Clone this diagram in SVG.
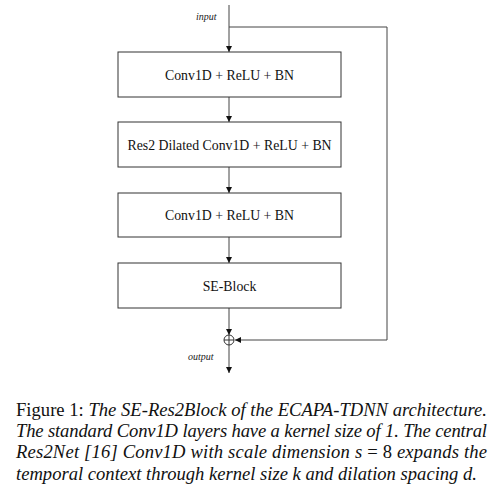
<svg xmlns="http://www.w3.org/2000/svg" width="492" height="493" viewBox="0 0 492 493">
<style>
.box{fill:#fff;stroke:#333;stroke-width:1}
.lbl{font-family:"Liberation Serif","Times New Roman",serif;font-size:13.8px;fill:#111;text-anchor:middle}
.io{font-family:"Liberation Serif","Times New Roman",serif;font-size:10px;font-style:italic;fill:#222}
.line{fill:none;stroke:#444;stroke-width:1}
.cap{font-family:"Liberation Serif","Times New Roman",serif;font-size:18.6px;fill:#111}
.it{font-style:italic}
</style>
<defs>
<marker id="ah" viewBox="0 0 6 6" refX="6" refY="3" markerWidth="6" markerHeight="6" orient="auto" markerUnits="userSpaceOnUse">
<path d="M0,0 L6,3 L0,6 Z" fill="#111"/>
</marker>
</defs>
<rect width="492" height="493" fill="#fff"/>
<g id="connectors">
<line class="line" x1="229" y1="5" x2="229" y2="52" marker-end="url(#ah)"/>
<line class="line" x1="229" y1="97" x2="229" y2="122" marker-end="url(#ah)"/>
<line class="line" x1="229" y1="167" x2="229" y2="193" marker-end="url(#ah)"/>
<line class="line" x1="229" y1="237" x2="229" y2="263" marker-end="url(#ah)"/>
<line class="line" x1="229" y1="308" x2="229" y2="335" marker-end="url(#ah)"/>
<line class="line" x1="229" y1="345" x2="229" y2="373" marker-end="url(#ah)"/>
<polyline class="line" points="229,27 387,27 387,340 235,340" marker-end="url(#ah)"/>
</g>
<g id="input-label"><text class="io" x="196" y="20">input</text></g>
<g id="node-conv1"><rect class="box" x="118" y="52" width="223" height="45"/><text class="lbl" x="229.5" y="79.5">Conv1D + ReLU + BN</text></g>
<g id="node-res2"><rect class="box" x="118" y="122" width="223" height="45"/><text class="lbl" x="229.5" y="149.5">Res2 Dilated Conv1D + ReLU + BN</text></g>
<g id="node-conv2"><rect class="box" x="118" y="193" width="223" height="44"/><text class="lbl" x="229.5" y="220">Conv1D + ReLU + BN</text></g>
<g id="node-se"><rect class="box" x="118" y="263" width="223" height="45"/><text class="lbl" x="229.5" y="290.5">SE-Block</text></g>
<g id="node-sum"><circle cx="229" cy="340" r="5" fill="#fff" stroke="#333" stroke-width="1"/><line x1="224" y1="340" x2="234" y2="340" stroke="#333"/><line x1="229" y1="335" x2="229" y2="345" stroke="#333"/></g>
<g id="output-label"><text class="io" x="188" y="360">output</text></g>
<g id="caption">
<text class="cap" x="16" y="416" textLength="471" lengthAdjust="spacing">Figure 1: <tspan class="it">The SE-Res2Block of the ECAPA-TDNN architecture.</tspan></text>
<text class="cap it" x="16" y="437" textLength="471" lengthAdjust="spacing">The standard Conv1D layers have a kernel size of 1. The central</text>
<text class="cap" x="16" y="458" textLength="471" lengthAdjust="spacing"><tspan class="it">Res2Net [16] Conv1D with scale dimension s </tspan>= 8<tspan class="it"> expands the</tspan></text>
<text class="cap it" x="16" y="480">temporal context through kernel size k and dilation spacing d.</text>
</g>
</svg>
